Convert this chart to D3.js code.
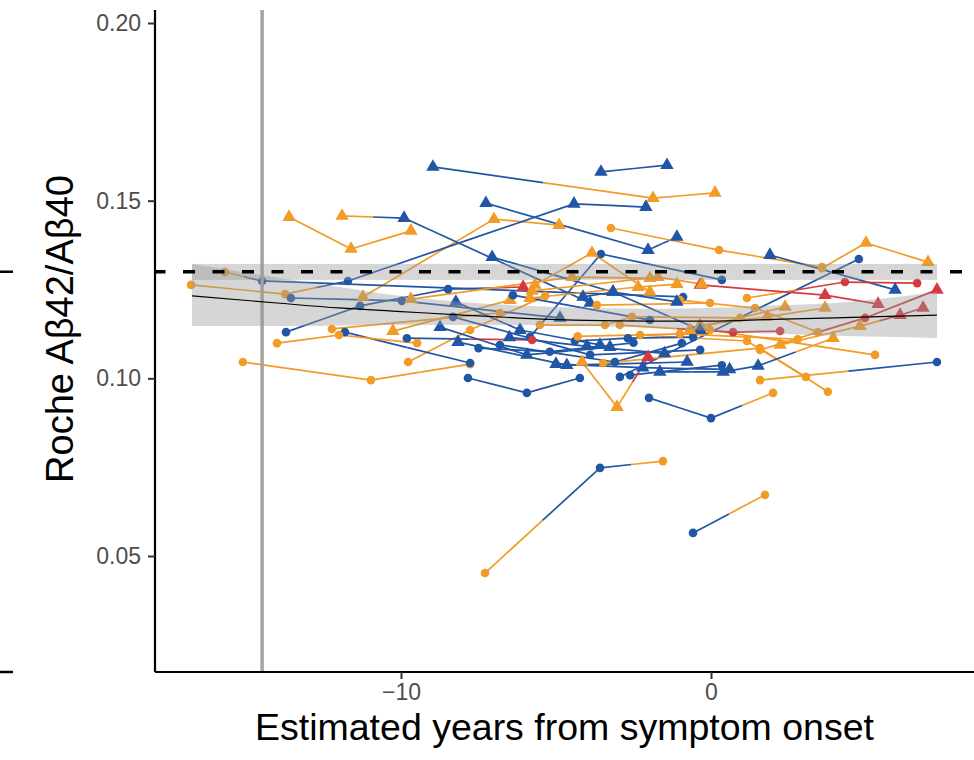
<!DOCTYPE html>
<html>
<head>
<meta charset="utf-8">
<script src="https://cdn.jsdelivr.net/npm/d3@7"></script>
<style>
body{margin:0;background:#fff;}
text{font-family:"Liberation Sans",Arial,Helvetica,sans-serif;}
</style>
</head>
<body>
<svg id="chart" width="974" height="760"></svg>
<script>
// one entry per participant: visit years, ratio, status per visit (B/O/R), marker per visit (C/T)
const subjYears = [
  [-8.97,-1.87,0.13],[-3.55,-1.42],[-7.26,-2.03,-1.10],[-11.23,-7.00,-4.90],[-13.61,-11.61,-9.68],
  [-11.90,-9.90,-3.90],[-13.71,-11.32,-8.48,-6.06],[-3.23,0.26,3.58],[3.58,5.00,7.00],[-5.84,-3.55,0.35],
  [-2.94,4.77],[1.90,5.94],[1.16,4.32,6.65],[-0.35,3.68,5.39],[1.58,4.97,7.29],
  [2.23,4.81,6.10,6.84],[-0.03,5.29],[1.58,7.29],[-7.29,-3.58,-1.55],[-0.58,1.74],
  [-2.00,0.00,2.00],[-7.84,-5.94,-4.23],[-9.77,-7.77,-5.35],[-15.10,-10.97,-7.77],[-11.81,-7.77],
  [-14.00,-12.00,-9.48],[-12.23,-6.81],[-10.26,-6.48],[-9.81,-5.77],[-16.77,-13.74,-11.71,-4.42,-2.10],
  [-15.68,-14.48,-0.90],[-13.55,-9.97,-4.87],[-9.68,-4.48,-1.97],[-8.23,-6.16,-3.58],[-8.32,-3.90,-0.35],
  [-8.74,-5.94,-3.26],[-8.16,-4.65,-0.77],[-6.81,-3.10,-0.94],[-3.48,1.58,3.77],[-3.68,-0.03],
  [-2.29,1.16,3.06],[-2.61,0.35],[-2.94,0.71,2.23],[-0.35,1.81,3.68],[-1.00,1.42,3.45],
  [-7.06,-3.16,-0.35],[-6.39,-1.97],[-5.77,-1.71,-0.29],[-5.84,-2.35,-1.10],[-4.13,-3.16,-1.10],
  [-5.52,-3.42,-2.55,0.94],[-4.39,-2.68,-0.58],[-1.65,0.39,1.52,3.94],[-5.68,-3.84,-1.97],[-4.16,-3.03,-2.03],
  [-0.68,2.39],[-6.50,-4.00,-1.50],[-7.50,-5.20,-2.50],[-5.00,-2.20,0.60],[-4.30,-1.00,2.80]
];
const subjRatio = [
  [.1595,.1507,.1522],[.1581,.1600],[.1493,.1361,.1398],[.1229,.1448,.1431],[.1454,.1364,.1415],
  [.1457,.1451,.1212],[.1130,.1204,.1251,.1257],[.1423,.1361,.1313],[.1310,.1381,.1327],[.1116,.1350,.1277],
  [.1004,.1336],[.1347,.1249],[.1226,.1271,.1268],[.1263,.1234,.1209],[.1080,.1170,.1249],
  [.1094,.1147,.1178,.1198],[.1136,.1066],[.0995,.1046],[.0452,.0748,.0767],[.0565,.0672],
  [.0945,.0888,.0959],[.1001,.0959,.1001],[.1046,.1136,.1232],[.1046,.0995,.1040],[.1130,.1043],
  [.1099,.1122,.1099],[.1139,.1184],[.1133,.1220],[.1113,.1108],[.1263,.1237,.1274,.1491,.1482],
  [.1299,.1274,.1229],[.1226,.1218,.1170],[.1223,.1285,.1282],[.1215,.1136,.1094],[.1173,.1066,.1080],
  [.1144,.1066,.1088],[.1102,.1037,.1046],[.1094,.1046,.1099],[.1043,.1085,.0962],[.1206,.1212],
  [.1122,.1105,.1004],[.1009,.1037],[.1150,.1130,.1133],[.1150,.1173,.1198],[.1220,.1198,.1130],
  [.1341,.1243,.1136],[.1234,.1164],[.1246,.1285,.1265],[.1226,.1257,.1265],[.1229,.1243,.1215],
  [.1150,.1150,.1173,.1170],[.1105,.1113,.1116],[.1018,.1018,.1035,.1113],[.1263,.1353,.1243],[.1046,.0919,.1060],
  [.1136,.1201],[.1115,.1090,.1070],[.1085,.1075,.1100],[.1040,.1030,.1025],[.1118,.1125,.1110]
];
const subjStatus = [
  "BOO","BB","BBB","OOO","OOO","OBB","BBBR","OOO","OOO","BBB",
  "BB","BB","ORR","RRR","ORR","OORR","OO","OB","OBO","BO",
  "BBO","BBB","OOO","OOO","BB","OOO","OO","OO","BR","OOBBB",
  "OBB","BBB","OOO","BBB","BBB","BBB","BBB","BBB","OOO","OO",
  "OOO","BB","ORR","OOO","OOO","BBB","BB","OOO","OOO","BBB",
  "OOOO","BBB","BBBO","OOO","OOR","OO","BBB","BBB","BBB","OOO"
];
const subjMarker = [
  "TTT","TT","TTT","TTT","TTT","TTT","CCCT","CCC","CTT","CCC",
  "CC","TT","CCC","TTT","CCT","TTTT","CC","CC","CCC","CC",
  "CCC","CCC","CCC","CCC","CC","CCC","CC","TT","CC","CCCTT",
  "CCC","CCT","TTT","TTT","CCC","TTT","TTT","CCC","CCC","CC",
  "CCC","CC","CCC","TTT","CCC","TTT","CC","TTT","TTT","TTT",
  "CCCC","CCC","TTTT","TTT","TTT","TT","TTT","CCC","TTT","CCC"
];

// smooth fit and its confidence band
const smoothX  = [-16.74,-14,-12,-10,-8,-6,-4,-2,0,2,4,6,7.29];
const smoothFit= [.1232,.1212,.1198,.1188,.1178,.1169,.1163,.1161,.1161,.1166,.1170,.1175,.1178];
const smoothHi = [.1322,.1284,.1257,.1232,.1215,.1204,.1198,.1196,.1198,.1205,.1212,.1229,.1243];
const smoothLo = [.1147,.1147,.1149,.1150,.1150,.1150,.1147,.1142,.1133,.1126,.1120,.1116,.1113];

const cutoff = 0.13, cutoffLo = 0.1277, cutoffHi = 0.1322;
const onsetLine = -14.48;
const xTicks = [-10, 0];
const yTicks = [0.05, 0.10, 0.15, 0.20];
const statusColor = {B:"#2155a5", O:"#f29b26", R:"#d63a3f"};

const svg = d3.select('#chart');
const pLeft = 155, pRight = 974, pTop = 10, pBottom = 672;
const x = d3.scaleLinear().domain([-17.935, 8.484]).range([pLeft, pRight]);
const y = d3.scaleLinear().domain([0.01735, 0.20366]).range([pBottom, pTop]);

// spaghetti lines, each segment split at its midpoint between the two visit colours
const gLines = svg.append('g');
subjYears.forEach((yrs, i) => {
  for (let k = 0; k < yrs.length - 1; k++) {
    let x1 = x(yrs[k]), y1 = y(subjRatio[i][k]);
    let x2 = x(yrs[k+1]), y2 = y(subjRatio[i][k+1]);
    let mx = (x1 + x2) / 2, my = (y1 + y2) / 2;
    gLines.append('line').attr('x1', x1).attr('y1', y1).attr('x2', mx).attr('y2', my)
      .attr('stroke', statusColor[subjStatus[i][k]]).attr('stroke-width', 1.7);
    gLines.append('line').attr('x1', mx).attr('y1', my).attr('x2', x2).attr('y2', y2)
      .attr('stroke', statusColor[subjStatus[i][k+1]]).attr('stroke-width', 1.7);
  }
});

const gPts = svg.append('g');
const tri = d3.symbol().type(d3.symbolTriangle).size(78);
subjYears.forEach((yrs, i) => {
  yrs.forEach((v, k) => {
    let col = statusColor[subjStatus[i][k]];
    if (subjMarker[i][k] === 'T') {
      gPts.append('path').attr('d', tri).attr('fill', col)
        .attr('transform', `translate(${x(v)},${y(subjRatio[i][k])})`);
    } else {
      gPts.append('circle').attr('cx', x(v)).attr('cy', y(subjRatio[i][k])).attr('r', 4.3).attr('fill', col);
    }
  });
});

// onset reference line
svg.append('line').attr('x1', x(onsetLine)).attr('x2', x(onsetLine)).attr('y1', pTop).attr('y2', pBottom)
  .attr('stroke', '#a3a3a3').attr('stroke-width', 3.5);

// cutoff strip and confidence band
svg.append('rect').attr('x', x(smoothX[0])).attr('width', x(smoothX[smoothX.length-1]) - x(smoothX[0]))
  .attr('y', y(cutoffHi)).attr('height', y(cutoffLo) - y(cutoffHi))
  .attr('fill', '#999').attr('fill-opacity', 0.4);
const band = d3.area().x((d, i) => x(smoothX[i])).y0((d, i) => y(smoothLo[i])).y1((d, i) => y(smoothHi[i]))
  .curve(d3.curveMonotoneX);
svg.append('path').attr('d', band(smoothX)).attr('fill', '#999').attr('fill-opacity', 0.4);
const fitLine = d3.line().x((d, i) => x(smoothX[i])).y((d, i) => y(smoothFit[i])).curve(d3.curveMonotoneX);
svg.append('path').attr('d', fitLine(smoothX)).attr('fill', 'none').attr('stroke', '#000').attr('stroke-width', 1.2);

// cutoff dashed line
svg.append('line').attr('x1', pLeft).attr('x2', pRight).attr('y1', y(cutoff)).attr('y2', y(cutoff))
  .attr('stroke', '#000').attr('stroke-width', 3.5).attr('stroke-dasharray', '12,17.5').attr('stroke-dashoffset', 1.5);
// stubs of the neighbouring panel at the left edge
svg.append('line').attr('x1', 0).attr('x2', 13).attr('y1', y(cutoff)).attr('y2', y(cutoff))
  .attr('stroke', '#000').attr('stroke-width', 2.5);
svg.append('line').attr('x1', 0).attr('x2', 13).attr('y1', pBottom).attr('y2', pBottom)
  .attr('stroke', '#000').attr('stroke-width', 2.5);

// axes
const xAxis = svg.append('g').attr('transform', `translate(0,${pBottom})`)
  .call(d3.axisBottom(x).tickValues(xTicks).tickSize(7).tickPadding(5).tickFormat(d => d === 0 ? '0' : '\u2212' + Math.abs(d)));
const yAxis = svg.append('g').attr('transform', `translate(${pLeft},0)`)
  .call(d3.axisLeft(y).tickValues(yTicks).tickSize(7).tickPadding(7).tickFormat(d3.format('.2f')));
[xAxis, yAxis].forEach(a => {
  a.select('.domain').attr('stroke', '#000').attr('stroke-width', 2.2);
  a.selectAll('.tick line').attr('stroke', '#333').attr('stroke-width', 2);
  a.selectAll('.tick text').attr('fill', '#4d4d4d').style('font-size', '23px')
    .style('font-family', '"Liberation Sans",Arial,sans-serif');
});
yAxis.select('.domain').attr('d', `M0,${pTop}V${pBottom}`);
xAxis.select('.domain').attr('d', `M${pLeft},0H${pRight}`);

svg.append('text').attr('x', (pLeft + pRight) / 2).attr('y', 740).attr('text-anchor', 'middle')
  .style('font-size', '37.5px').attr('fill', '#000').text('Estimated years from symptom onset');
svg.append('text').attr('transform', `translate(73,329) rotate(-90)`).attr('text-anchor', 'middle')
  .style('font-size', '38px').attr('fill', '#000').text('Roche A\u03b242/A\u03b240');
</script>
</body>
</html>
